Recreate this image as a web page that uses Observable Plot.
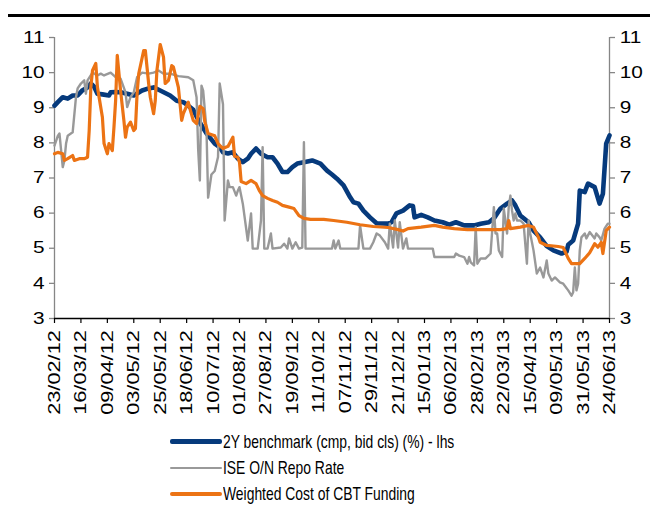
<!DOCTYPE html>
<html><head><meta charset="utf-8">
<script src="https://cdn.jsdelivr.net/npm/d3@7"></script>
<script src="https://cdn.jsdelivr.net/npm/@observablehq/plot@0.6"></script>
<style>
body{margin:0;background:#fff;font-family:"Liberation Sans",Arial,sans-serif;}
#wrap{position:relative;width:650px;height:507px;overflow:hidden;background:#fff}
#rule{position:absolute;left:8px;top:14px;width:642px;height:3px;background:#000}
#chart{position:absolute;left:0;top:0}
.row{position:absolute;left:170px;height:0}
.sw{position:absolute;left:0;width:52px;border-radius:2px}
.lab{position:absolute;left:53px;top:-8px;font-size:13.9px;line-height:16px;white-space:nowrap;transform:scaleY(1.28);transform-origin:0 50%;color:#000}
</style></head>
<body><div id="wrap"><div id="rule"></div><div id="chart"></div><div id="legend"></div></div>
<script>
// x = trading-day index (16 trading days between labelled ticks)
const tickLabels = ["23/02/12","16/03/12","09/04/12","03/05/12","25/05/12","18/06/12","10/07/12","01/08/12","27/08/12","19/09/12","11/10/12","07/11/12","29/11/12","21/12/12","15/01/13","06/02/13","28/02/13","22/03/13","15/04/13","09/05/13","31/05/13","24/06/13"];
const yTicks = [3,4,5,6,7,8,9,10,11];
const seriesNames = ["2Y benchmark (cmp, bid cls) (%) - lhs","ISE O/N Repo Rate","Weighted Cost of CBT Funding"];

const bench = [[0,9.06],[2,9.16],[5,9.3],[8,9.26],[11,9.35],[14,9.35],[17,9.5],[20,9.58],[22,9.69],[24,9.6],[26,9.4],[29,9.38],[33,9.35],[34,9.44],[37,9.45],[40,9.44],[44,9.4],[48,9.35],[53,9.49],[57,9.55],[60,9.58],[64,9.49],[67,9.42],[70,9.35],[74,9.2],[78,9.16],[81,9.06],[84,8.94],[86,8.75],[89,8.5],[92,8.27],[97,7.98],[100,7.88],[102,7.73],[105,7.7],[108,7.73],[111,7.55],[114,7.45],[117,7.55],[119,7.69],[122,7.84],[125,7.69],[129,7.59],[132,7.59],[135,7.41],[138,7.17],[141,7.17],[144,7.31],[147,7.41],[151,7.45],[156,7.5],[161,7.41],[165,7.21],[168,7.1],[171,6.98],[175,6.79],[179,6.45],[181,6.31],[184,6.27],[187,6.07],[191,5.88],[195,5.71],[202,5.7],[204,5.74],[207,5.99],[211,6.07],[215,6.22],[217,6.2],[218,5.88],[222,5.95],[226,5.88],[230,5.79],[235,5.74],[239,5.67],[243,5.74],[248,5.65],[254,5.65],[258,5.7],[263,5.74],[266,5.85],[270,6.13],[274,6.27],[277,6.36],[279,6.22],[282,5.93],[287,5.74],[290,5.5],[294,5.31],[298,5.06],[302,4.94],[307,4.85],[310,4.9],[311,5.1],[314,5.22],[317,5.7],[318,6.64],[321,6.6],[323,6.84],[327,6.74],[330,6.27],[332,6.55],[334,7.98],[336,8.21]];

const repo = [[0,7.92],[2,8.2],[3,8.27],[5,7.31],[6,7.5],[7,7.98],[8,8.2],[11,8.3],[13,9.3],[14,9.55],[16,9.69],[18,9.78],[19,9.4],[20,9.78],[23,10.0],[26,9.92],[28,9.97],[30,9.92],[34,10.0],[37,9.87],[40,9.83],[43,9.44],[44,9.02],[46,9.3],[48,9.44],[50,9.87],[53,10.0],[57,9.97],[60,10.0],[63,10.06],[66,9.97],[70,9.97],[75,9.9],[81,9.87],[84,9.78],[86,9.3],[87,7.8],[88,6.93],[89,9.63],[90,9.49],[92,8.4],[93,6.44],[95,7.1],[97,7.2],[99,7.6],[100,9.69],[102,9.1],[103,5.79],[105,6.93],[106,6.74],[108,6.74],[110,6.5],[111,6.64],[112,6.74],[114,6.27],[117,5.22],[119,5.99],[120,4.99],[123,4.99],[125,5.79],[126,7.88],[127,4.99],[129,4.99],[131,5.42],[132,4.99],[137,5.02],[139,5.13],[141,4.99],[142,5.28],[144,4.99],[146,5.17],[148,4.99],[150,5.02],[151,8.02],[152,4.99],[168,4.99],[169,5.22],[170,4.99],[172,5.22],[173,4.99],[184,4.99],[185,5.65],[187,4.99],[191,4.99],[193,5.17],[195,5.42],[197,5.36],[200,5.17],[202,4.99],[203,5.7],[205,5.02],[206,5.79],[208,5.02],[209,5.74],[211,4.99],[213,5.28],[214,4.99],[229,4.99],[230,4.75],[242,4.75],[243,4.85],[245,4.79],[248,4.75],[250,4.56],[251,4.75],[252,4.6],[254,4.51],[255,5.6],[256,4.56],[258,4.71],[261,4.71],[264,4.85],[266,6.17],[267,5.42],[268,5.42],[269,4.94],[271,4.75],[272,6.13],[274,5.42],[275,6.17],[276,6.5],[277,6.07],[278,5.79],[279,5.99],[280,5.79],[282,5.79],[284,5.7],[286,4.56],[287,5.79],[288,5.42],[290,4.94],[292,4.28],[294,4.45],[296,4.17],[298,4.65],[299,4.28],[301,4.08],[303,4.17],[306,4.03],[308,3.99],[311,3.8],[313,3.65],[314,3.75],[315,4.45],[316,3.8],[317,3.99],[318,4.94],[319,5.31],[321,5.42],[322,5.28],[324,5.46],[327,5.28],[328,5.42],[330,5.31],[331,5.22],[333,5.56],[335,5.7],[336,5.7]];

const cbt = [[0,7.69],[2,7.73],[5,7.69],[6,7.5],[8,7.55],[11,7.64],[12,7.5],[15,7.55],[18,7.55],[20,7.59],[21,8.35],[22,9.58],[23,10.06],[25,10.26],[26,9.58],[29,8.73],[30,7.98],[32,7.69],[33,7.98],[35,7.78],[36,8.45],[37,9.2],[38,10.49],[40,9.49],[42,8.64],[43,8.16],[44,8.45],[46,8.59],[48,8.35],[49,8.41],[50,9.4],[51,9.97],[54,10.63],[55,10.63],[57,9.69],[58,9.3],[60,8.83],[61,9.2],[62,10.06],[64,10.8],[66,10.44],[67,9.69],[69,9.78],[71,10.2],[72,10.16],[75,9.58],[77,8.64],[78,8.83],[81,9.16],[82,8.97],[84,8.64],[86,8.55],[88,9.04],[90,8.97],[91,8.6],[93,8.27],[97,8.2],[99,7.98],[101,7.88],[102,7.84],[104,7.88],[105,7.9],[108,8.16],[109,7.62],[111,7.59],[112,7.45],[113,6.9],[116,6.84],[119,6.93],[122,6.84],[124,6.64],[126,6.5],[129,6.42],[132,6.36],[135,6.31],[138,6.22],[142,6.17],[145,6.13],[148,5.93],[151,5.85],[155,5.82],[163,5.82],[169,5.79],[177,5.74],[185,5.67],[193,5.62],[202,5.59],[208,5.53],[211,5.49],[214,5.56],[222,5.6],[230,5.65],[235,5.6],[242,5.56],[250,5.53],[263,5.53],[270,5.53],[274,5.56],[275,5.79],[276,5.56],[282,5.6],[287,5.65],[290,5.6],[293,5.31],[294,5.17],[298,5.08],[305,5.05],[308,5.02],[311,4.71],[313,4.56],[318,4.56],[321,4.71],[324,4.87],[327,5.13],[329,5.03],[331,5.17],[332,4.85],[334,5.5],[336,5.6]];

const colors = ["#063a7c","#999999","#ec7314"];
const widths = [4.6, 2.4, 3.2];
const step = 16;
const xTicks = tickLabels.map((_, k) => k * step);
const xMax = (tickLabels.length - 1) * step;
const M = {top: 37, bottom: 107, left: 54, right: 41, tick: 5, pad: 5};

const chart = Plot.plot({
  width: 650, height: 425,
  marginTop: M.top, marginBottom: M.bottom, marginLeft: M.left, marginRight: M.right,
  style: {fontFamily: "'Liberation Sans', Arial, sans-serif", color: "#000", background: "transparent", overflow: "visible"},
  x: {domain: [0, xMax], axis: null},
  y: {domain: [3, 11], axis: null},
  marks: [
    Plot.ruleX([0, xMax], {stroke: "#868686", strokeWidth: 1.3}),
    Plot.axisY({anchor: "left", ticks: yTicks, tickSize: M.tick, tickPadding: M.pad, fontSize: 16, stroke: "#868686", strokeWidth: 1.3}),
    Plot.axisY({anchor: "right", ticks: yTicks, tickSize: M.tick, tickPadding: M.pad, fontSize: 16, stroke: "#868686", strokeWidth: 1.3}),
    Plot.line(bench, {x: d => d[0], y: d => d[1], stroke: colors[0], strokeWidth: widths[0], strokeLinejoin: "round"}),
    Plot.line(repo, {x: d => d[0], y: d => d[1], stroke: colors[1], strokeWidth: widths[1], strokeLinejoin: "round"}),
    Plot.line(cbt, {x: d => d[0], y: d => d[1], stroke: colors[2], strokeWidth: widths[2], strokeLinejoin: "round"}),
    Plot.ruleY([3], {stroke: "#000", strokeWidth: 1.3}),
    Plot.axisX({ticks: xTicks, tickFormat: i => tickLabels[i / step], tickRotate: -90, tickSize: 5, tickPadding: 4, fontSize: 17, stroke: "#000", strokeWidth: 1.2})
  ]
});
document.getElementById("chart").appendChild(chart);

// stretch tick-label groups (the reference's text is drawn anisotropically)
const svgns = "http://www.w3.org/2000/svg";
function stretch(g, sx, sy, ox, oy) {
  const w = document.createElementNS(svgns, "g");
  w.setAttribute("transform", `translate(${ox},${oy}) scale(${sx},${sy}) translate(${-ox},${-oy})`);
  g.parentNode.insertBefore(w, g);
  w.appendChild(g);
}
const yLab = chart.querySelectorAll('g[aria-label="y-axis tick label"]');
const plotRight = 650 - M.right;
if (yLab[0]) stretch(yLab[0], 1.3, 1, M.left - M.tick - M.pad, 0);
if (yLab[1]) stretch(yLab[1], 1.3, 1, plotRight + M.tick + M.pad, 0);
const xLab = chart.querySelector('g[aria-label="x-axis tick label"]');
if (xLab) stretch(xLab, 1, 1.28, 0, 425 - M.bottom);

const legend = document.getElementById("legend");
const rowY = [441.5, 468, 494];
seriesNames.forEach((name, k) => {
  const row = document.createElement("div");
  row.className = "row";
  row.style.top = rowY[k] + "px";
  const sw = document.createElement("div");
  sw.className = "sw";
  sw.style.background = colors[k];
  sw.style.height = widths[k] + "px";
  sw.style.top = (-widths[k] / 2) + "px";
  const lab = document.createElement("div");
  lab.className = "lab";
  lab.textContent = name;
  row.appendChild(sw); row.appendChild(lab);
  legend.appendChild(row);
});
</script></body></html>
